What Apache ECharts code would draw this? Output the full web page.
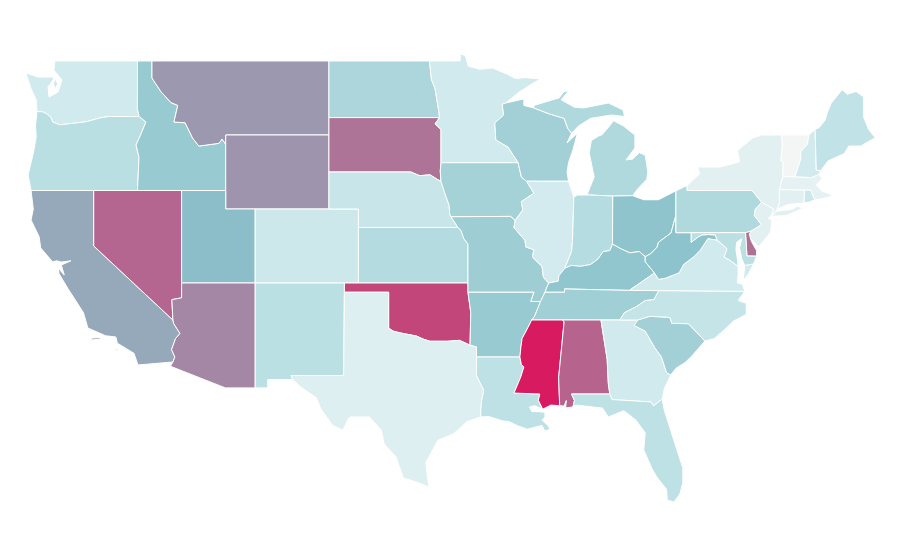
<!DOCTYPE html>
<html><head><meta charset="utf-8">
<style>html,body{margin:0;padding:0;background:#fff}#c{width:900px;height:560px}</style>
<script src="https://cdn.jsdelivr.net/npm/echarts@6/dist/echarts.min.js"></script>
</head><body><div id="c"></div>
<script>
const stateNames=['WA','OR','CA','NV','ID','MT','WY','UT','AZ','CO','NM','ND','SD','NE','KS','OK','TX','MN','IA','MO','AR','LA','WI','IL','MI','IN','OH','KY','TN','MS','AL','GA','FL','SC','NC','VA','WV','PA','NY','VT','NH','ME','MA','RI','CT','NJ','DE','MD'];
const stateValues=[15,26,57,77,43,62,63,51,67,17,25,33,73,19,29,87,9,15,37,40,43,24,38,14,31,28,48,47,39,100,78,15,24,38,21,15,49,31,7,0,15,22,6,18,7,7,74,25];
const colorStops=['#f4f6f6','#d6ecef','#bbe0e4','#a3d1d6','#8bc2cb','#9d96ae','#b16d94','#c4447a','#d81b60'];
const mapBounds=[[-125,50],[-66,24]];
const shapes={
WA:[[[-122.63,49],[-117.03,49],[-117.04,46.42],[-116.92,46],[-119,46],[-119.6,45.92],[-120.5,45.72],[-121.2,45.65],[-122.3,45.55],[-122.78,45.7],[-122.9,45.95],[-123.2,46.15],[-123.45,46.25],[-123.85,46.27],[-123.9,46.9],[-124.25,47.5],[-124.6,48.35],[-123.78,48.13],[-122.7,48.13],[-122.76,47.97],[-123.1,47.6],[-123.03,47.05],[-122.42,47.32],[-122.15,47.97],[-122.7,48.5]],[[-122.6,48.05],[-122.45,47.75],[-122.6,47.5],[-122.75,47.75]]],
OR:[[[-123.85,46.27],[-123.45,46.25],[-123.2,46.15],[-122.9,45.95],[-122.78,45.7],[-122.3,45.55],[-121.2,45.65],[-120.5,45.72],[-119.6,45.92],[-119,46],[-116.92,46],[-116.46,45.7],[-116.85,44.95],[-117.13,44.46],[-116.93,43.8],[-117.03,42],[-124.25,42],[-124.45,42.85],[-124.1,44],[-123.9,44.9],[-123.95,45.5]]],
CA:[[[-120,42],[-120,39],[-114.63,35],[-114.57,34.8],[-114.15,34.27],[-114.45,34],[-114.72,33.4],[-114.5,33],[-114.63,32.73],[-117,32.57],[-117.27,33.2],[-118.4,33.75],[-118.5,34.08],[-119.2,34.15],[-120.4,34.57],[-120.7,35.4],[-121.75,36.7],[-122.35,37.5],[-122.4,37.8],[-122,37.43],[-122.2,37.97],[-121.55,38.2],[-122.2,38.13],[-122.5,38.2],[-122.8,38.15],[-123.6,38.9],[-123.7,39.5],[-124.25,40.4],[-124.1,41],[-124.25,42]],[[-120.2,34.02],[-119.6,34.05],[-119.55,33.97],[-120.1,33.92]],[[-118.55,33.45],[-118.35,33.4],[-118.4,33.33]]],
NV:[[[-120,42],[-114.04,42],[-114.04,36.2],[-114.7,36.1],[-114.63,35],[-120,39]]],
ID:[[[-117.03,49],[-116.05,49],[-116.05,48.08],[-115.44,47.34],[-114.76,46.75],[-114.3,46.6],[-114.56,45.7],[-113.8,45.66],[-113.3,44.84],[-112.87,44.4],[-111.5,44.55],[-111.3,44.78],[-111.05,44.5],[-111.05,42],[-117.03,42],[-116.93,43.8],[-117.13,44.46],[-116.85,44.95],[-116.46,45.7],[-116.92,46],[-117.04,46.42]]],
MT:[[[-116.05,49],[-104.05,49],[-104.05,45],[-111.05,45],[-111.05,44.5],[-111.3,44.78],[-111.5,44.55],[-112.87,44.4],[-113.3,44.84],[-113.8,45.66],[-114.56,45.7],[-114.3,46.6],[-114.76,46.75],[-115.44,47.34],[-116.05,48.08]]],
WY:[[[-111.05,45],[-104.05,45],[-104.05,41],[-111.05,41]]],
UT:[[[-114.04,42],[-111.05,42],[-111.05,41],[-109.05,41],[-109.05,37],[-114.04,37]]],
AZ:[[[-114.04,37],[-109.05,37],[-109.05,31.33],[-111.07,31.33],[-114.8,32.5],[-114.63,32.73],[-114.5,33],[-114.72,33.4],[-114.45,34],[-114.15,34.27],[-114.57,34.8],[-114.63,35],[-114.7,36.1],[-114.04,36.2]]],
CO:[[[-109.05,41],[-102.05,41],[-102.05,37],[-109.05,37]]],
NM:[[[-109.05,37],[-103,37],[-103.05,32],[-106.62,32],[-106.5,31.78],[-108.2,31.78],[-108.2,31.33],[-109.05,31.33]]],
ND:[[[-104.05,49],[-97.23,49],[-97.1,48],[-96.85,47.5],[-96.6,46.3],[-96.55,45.94],[-104.05,45.94]]],
SD:[[[-104.05,45.94],[-96.55,45.94],[-96.85,45.6],[-96.45,45.3],[-96.45,43.5],[-96.5,43.05],[-96.45,42.49],[-96.7,42.6],[-97.2,42.85],[-97.9,42.8],[-98.5,43],[-104.05,43]]],
NE:[[[-104.05,43],[-98.5,43],[-97.9,42.8],[-97.2,42.85],[-96.7,42.6],[-96.45,42.49],[-96.25,42],[-96.1,41.65],[-95.9,41.2],[-95.85,40.7],[-95.77,40.58],[-95.3,40],[-102.05,40],[-102.05,41],[-104.05,41]]],
KS:[[[-102.05,40],[-95.3,40],[-95.1,39.85],[-94.9,39.4],[-94.62,39.1],[-94.62,37],[-102.05,37]]],
OK:[[[-103,37],[-94.62,37],[-94.62,36.5],[-94.43,35.4],[-94.48,33.64],[-95.2,33.9],[-96,33.85],[-96.6,33.85],[-97.2,33.85],[-97.7,33.98],[-98.1,34.13],[-99.2,34.3],[-99.7,34.4],[-100,34.56],[-100,36.5],[-103,36.5]]],
TX:[[[-103,36.5],[-100,36.5],[-100,34.56],[-99.7,34.4],[-99.2,34.3],[-98.1,34.13],[-97.7,33.98],[-97.2,33.85],[-96.6,33.85],[-96,33.85],[-95.2,33.9],[-94.48,33.64],[-94.04,33.55],[-94.04,33],[-94.04,32],[-93.55,31.2],[-93.7,30.6],[-93.75,30.1],[-93.75,29.76],[-94.7,29.5],[-95.1,29.2],[-95.6,28.85],[-96.66,28.5],[-97.1,27.85],[-97.47,27.3],[-97.4,26.7],[-97.27,25.97],[-97.95,26.2],[-99,26.46],[-99.5,27.6],[-100.3,28.3],[-100.5,29.05],[-101.3,29.76],[-102.56,29.76],[-102.7,29.7],[-103.1,29.05],[-103.8,29.3],[-104.6,30.2],[-104.9,30.8],[-106,31.4],[-106.5,31.78],[-106.62,32],[-103.05,32]]],
MN:[[[-97.23,49],[-95.15,49],[-95.15,49.38],[-94.8,49.3],[-94.6,48.72],[-93.8,48.55],[-92.95,48.62],[-92,48.3],[-91.4,48.05],[-90.75,48.1],[-89.7,48.03],[-90.3,47.75],[-91.2,47.3],[-92.05,46.73],[-92.3,46.66],[-92.2,46.08],[-92.8,45.65],[-92.73,44.73],[-91.9,44.35],[-91.22,43.5],[-96.45,43.5],[-96.45,45.3],[-96.85,45.6],[-96.55,45.94],[-96.6,46.3],[-96.85,47.5],[-97.1,48]]],
IA:[[[-96.45,43.5],[-91.22,43.5],[-91,42.73],[-90.65,42.5],[-90.15,41.85],[-91,41.4],[-90.9,40.95],[-91.42,40.38],[-91.73,40.6],[-95.77,40.58],[-95.85,40.7],[-95.9,41.2],[-96.1,41.65],[-96.25,42],[-96.45,42.49],[-96.5,43.05]]],
MO:[[[-95.77,40.58],[-91.73,40.6],[-91.42,40.38],[-91.5,40],[-90.75,39.3],[-90.7,38.95],[-90.15,38.8],[-90.25,38.4],[-89.6,37.9],[-89.5,37.3],[-89.15,37],[-89.4,36.5],[-89.7,36],[-90.37,36],[-90.15,36.5],[-94.62,36.5],[-94.62,39.1],[-94.9,39.4],[-95.1,39.85],[-95.3,40]]],
AR:[[[-94.62,36.5],[-90.15,36.5],[-90.37,36],[-89.7,36],[-90.1,35.2],[-90.3,35],[-90.55,34.6],[-90.95,34],[-91.03,33.54],[-91.1,33],[-94.04,33],[-94.04,33.55],[-94.48,33.64],[-94.43,35.4]]],
LA:[[[-94.04,33],[-91.1,33],[-91,32.6],[-90.83,32.46],[-91.05,31.9],[-91.5,31.05],[-89.75,31],[-89.85,30.66],[-89.55,30.18],[-90.1,30.37],[-90.45,30.3],[-90.3,30.05],[-89.8,30.05],[-89.4,30],[-89.4,29.75],[-89.6,29.6],[-89.2,29.3],[-89.05,29.1],[-89.4,29],[-89.6,29.3],[-90.1,29.2],[-90.6,29.1],[-91.3,29.3],[-91.8,29.5],[-92.3,29.55],[-93.2,29.78],[-93.75,29.76],[-93.75,30.1],[-93.7,30.6],[-93.55,31.2],[-94.04,32]]],
WI:[[[-92.05,46.73],[-90.83,46.95],[-90.83,46.6],[-90.15,46.46],[-89.1,46.14],[-88.1,45.9],[-87.85,45.35],[-87.6,45.1],[-87.9,44.57],[-87.2,45.1],[-87.5,44.2],[-87.8,43.5],[-87.9,43],[-87.8,42.5],[-90.65,42.5],[-91,42.73],[-91.22,43.5],[-91.9,44.35],[-92.73,44.73],[-92.8,45.65],[-92.2,46.08],[-92.3,46.66]]],
IL:[[[-90.65,42.5],[-87.8,42.5],[-87.44,41.65],[-87.53,39.3],[-87.6,38.7],[-87.95,38],[-88.05,37.8],[-88.45,37.4],[-88.5,37.1],[-89.15,37],[-89.5,37.3],[-89.6,37.9],[-90.25,38.4],[-90.15,38.8],[-90.7,38.95],[-90.75,39.3],[-91.5,40],[-91.42,40.38],[-90.9,40.95],[-91,41.4],[-90.15,41.85]]],
MI:[[[-90.15,46.46],[-90.15,46.6],[-88.45,47],[-88.1,47.35],[-87.8,47.38],[-88.3,46.9],[-87.4,46.5],[-86.76,46.46],[-85.1,46.73],[-84.1,46.35],[-84,46],[-84.9,46.08],[-86.3,45.9],[-87.1,45.5],[-87.6,45.1],[-87.85,45.35],[-88.1,45.9],[-89.1,46.14]],[[-86.5,41.76],[-84.8,41.7],[-83.45,41.72],[-83.15,42.05],[-82.5,42.6],[-82.42,43],[-82.6,43.9],[-83,44.05],[-83.45,43.7],[-83.9,43.65],[-83.3,44.3],[-83.3,45],[-84.1,45.5],[-84.75,45.77],[-85.1,45.4],[-85.55,45],[-85.75,44.95],[-86.25,44.7],[-86.4,44.03],[-86.06,42.73],[-86.5,41.86]]],
IN:[[[-87.44,41.65],[-87.2,41.75],[-86.5,41.76],[-84.8,41.7],[-84.82,39.1],[-85,38.75],[-85.45,38.7],[-85.8,38.3],[-86.3,38],[-87,37.9],[-87.6,37.95],[-88.05,37.8],[-87.95,38],[-87.6,38.7],[-87.53,39.3]]],
OH:[[[-84.8,41.7],[-83.45,41.72],[-82.7,41.5],[-81.7,41.5],[-80.52,41.98],[-80.52,40.64],[-80.65,40.3],[-80.85,39.7],[-81.7,39.2],[-81.8,38.93],[-82.2,38.6],[-82.6,38.42],[-83,38.7],[-83.65,38.63],[-84.25,38.85],[-84.82,39.1]]],
KY:[[[-84.82,39.1],[-84.25,38.85],[-83.65,38.63],[-83,38.7],[-82.6,38.42],[-82.6,38.15],[-81.97,37.54],[-83.68,36.6],[-86.5,36.65],[-88.07,36.68],[-88.07,36.5],[-89.4,36.5],[-89.15,37],[-88.5,37.1],[-88.45,37.4],[-88.05,37.8],[-87.6,37.95],[-87,37.9],[-86.3,38],[-85.8,38.3],[-85.45,38.7],[-85,38.75]]],
TN:[[[-89.4,36.5],[-88.07,36.5],[-88.07,36.68],[-86.5,36.65],[-83.68,36.6],[-81.68,36.59],[-82,36.1],[-82.6,36.05],[-83.2,35.72],[-84,35.4],[-84.32,35],[-88.2,35],[-90.3,35],[-90.1,35.2],[-89.7,36]]],
MS:[[[-91.1,33],[-91.03,33.54],[-90.95,34],[-90.55,34.6],[-90.3,35],[-88.2,35],[-88.1,34.9],[-88.47,31.9],[-88.4,30.37],[-89,30.4],[-89.55,30.18],[-89.85,30.66],[-89.75,31],[-91.5,31.05],[-91.05,31.9],[-90.83,32.46],[-91,32.6]]],
AL:[[[-88.2,35],[-85.6,35],[-85.18,32.87],[-85.15,32.3],[-85.1,31.55],[-85,31],[-87.6,31],[-87.4,30.65],[-87.5,30.3],[-88,30.25],[-87.95,30.65],[-88.1,30.35],[-88.4,30.37],[-88.47,31.9],[-88.1,34.9]]],
GA:[[[-85.6,35],[-84.32,35],[-83.1,35],[-83.35,34.7],[-82.6,34.4],[-81.95,33.5],[-81.5,33],[-81.15,32.15],[-80.87,32.03],[-81.3,31.3],[-81.45,30.72],[-82.05,30.36],[-82.2,30.57],[-84.86,30.7],[-85,31],[-85.1,31.55],[-85.15,32.3],[-85.18,32.87]]],
FL:[[[-87.6,31],[-85,31],[-84.86,30.7],[-82.2,30.57],[-82.05,30.36],[-81.45,30.72],[-81.3,30.1],[-80.66,28.5],[-80.05,27],[-80.05,26.2],[-80.25,25.6],[-80.65,25.16],[-81.1,25.27],[-81.15,25.85],[-81.8,26.5],[-82.1,26.9],[-82.7,27.97],[-82.6,28.9],[-83.24,29.6],[-84.05,30.1],[-85.1,29.76],[-85.5,30.24],[-87.3,30.4],[-87.5,30.3],[-87.4,30.65]]],
SC:[[[-83.1,35],[-82.3,35.2],[-81.05,35.15],[-80.9,35.1],[-80.8,34.82],[-79.67,34.8],[-78.55,33.86],[-79.5,33],[-79.9,32.7],[-80.5,32.4],[-80.87,32.03],[-81.15,32.15],[-81.5,33],[-81.95,33.5],[-82.6,34.4],[-83.35,34.7]]],
NC:[[[-81.68,36.59],[-75.85,36.55],[-76.3,36.05],[-75.75,35.9],[-75.75,35.3],[-76.6,34.95],[-77,34.65],[-77.9,34],[-78.55,33.86],[-79.67,34.8],[-80.8,34.82],[-80.9,35.1],[-81.05,35.15],[-82.3,35.2],[-83.1,35],[-84.32,35],[-84,35.4],[-83.2,35.72],[-82.6,36.05],[-82,36.1]]],
VA:[[[-83.68,36.6],[-81.97,37.54],[-81.7,37.2],[-81.25,37.25],[-80.3,37.55],[-80,38],[-79.3,38.42],[-78.87,38.77],[-78.35,39.4],[-77.72,39.32],[-77.05,38.85],[-77.25,38.4],[-76.9,38.25],[-76.3,37.9],[-76.3,37.5],[-76.35,37],[-76,36.93],[-75.85,36.55],[-81.68,36.59]],[[-75.95,37.15],[-75.85,37.95],[-75.25,38.03],[-75.6,37.5]]],
WV:[[[-80.52,40.64],[-80.52,39.72],[-79.48,39.72],[-79.48,39.2],[-79.05,39.47],[-78.75,39.6],[-78.3,39.62],[-77.85,39.6],[-77.72,39.32],[-78.35,39.4],[-78.87,38.77],[-79.3,38.42],[-80,38],[-80.3,37.55],[-81.25,37.25],[-81.7,37.2],[-81.97,37.54],[-82.6,38.15],[-82.6,38.42],[-82.2,38.6],[-81.8,38.93],[-81.7,39.2],[-80.85,39.7],[-80.65,40.3]]],
PA:[[[-80.52,41.98],[-79.76,42.27],[-79.76,42],[-75.35,42],[-75.05,41.7],[-74.7,41.36],[-75.13,40.98],[-75.2,40.65],[-74.72,40.15],[-75.42,39.8],[-75.8,39.72],[-80.52,39.72]]],
NY:[[[-79.76,42.27],[-78.9,42.9],[-79.05,43.27],[-77.5,43.27],[-76.2,43.55],[-76.35,44.15],[-75.3,44.85],[-74.7,45],[-73.35,45],[-73.3,44.4],[-73.4,43.6],[-73.25,43.55],[-73.27,42.75],[-73.5,42.05],[-73.5,41.3],[-73.65,41],[-73.8,40.8],[-74,40.7],[-73.9,41],[-74.7,41.36],[-75.05,41.7],[-75.35,42],[-79.76,42]],[[-74,40.6],[-73.75,40.87],[-72.6,40.98],[-72.3,41.15],[-71.9,41.05],[-73,40.65]]],
VT:[[[-73.35,45],[-71.5,45],[-71.6,44.5],[-72.05,44.1],[-72.05,43.7],[-72.45,42.73],[-73.27,42.75],[-73.25,43.55],[-73.4,43.6],[-73.3,44.4]]],
NH:[[[-71.5,45],[-71.08,45.3],[-71,43.1],[-70.7,43.07],[-70.82,42.87],[-71.3,42.7],[-72.45,42.73],[-72.05,43.7],[-72.05,44.1],[-71.6,44.5]]],
ME:[[[-71.08,45.3],[-70.8,45.4],[-70.4,45.8],[-70.25,46.2],[-70,46.7],[-69.25,47.45],[-68.9,47.2],[-68.3,47.35],[-67.8,47.07],[-67.78,45.95],[-67.45,45.3],[-67,44.85],[-68,44.4],[-68.8,44.4],[-69.1,44],[-70.2,43.6],[-70.7,43.07],[-71,43.1]]],
MA:[[[-73.5,42.05],[-73.27,42.75],[-72.45,42.73],[-71.3,42.7],[-70.82,42.87],[-70.6,42.65],[-71,42.3],[-70.6,41.95],[-70,41.8],[-70.25,42.07],[-69.95,41.7],[-70.6,41.55],[-71.1,41.5],[-71.2,41.65],[-71.38,42.02],[-71.8,42.02],[-72.8,42.03]]],
RI:[[[-71.8,42.02],[-71.38,42.02],[-71.2,41.65],[-71.1,41.5],[-71.5,41.37],[-71.85,41.32]]],
CT:[[[-73.5,42.05],[-72.8,42.03],[-71.8,42.02],[-71.85,41.32],[-72.9,41.25],[-73.65,41],[-73.5,41.3]]],
NJ:[[[-74.7,41.36],[-73.9,41],[-74.05,40.65],[-74.25,40.5],[-74,40.4],[-74.1,39.75],[-74.9,38.95],[-75.5,39.45],[-75.55,39.65],[-75.42,39.8],[-74.72,40.15],[-75.2,40.65],[-75.13,40.98]]],
DE:[[[-75.8,39.72],[-75.42,39.8],[-75.55,39.65],[-75.4,39.25],[-75.05,38.75],[-75.05,38.45],[-75.7,38.46]]],
MD:[[[-79.48,39.72],[-75.8,39.72],[-75.7,38.46],[-75.05,38.45],[-75.25,38.03],[-75.85,37.95],[-76.05,38.3],[-76.2,38.9],[-76.05,39.4],[-76.4,39.2],[-76.45,38.8],[-76.35,38.3],[-76.3,37.9],[-76.9,38.25],[-77.25,38.4],[-77.05,38.85],[-77.72,39.32],[-77.85,39.6],[-78.3,39.62],[-78.75,39.6],[-79.05,39.47],[-79.48,39.2]]]
};
const geo={type:'FeatureCollection',features:stateNames.map(n=>({type:'Feature',properties:{name:n},geometry:{type:'MultiPolygon',coordinates:shapes[n].map(r=>[r.concat([r[0]])])}}))};
echarts.registerMap('USA',geo);
const chart=echarts.init(document.getElementById('c'),null,{renderer:'canvas'});
chart.setOption({
  animation:false,
  backgroundColor:'#fff',
  visualMap:{show:false,type:'continuous',min:0,max:100,inRange:{color:colorStops}},
  series:[{type:'map',map:'USA',silent:true,
    boundingCoords:mapBounds,aspectScale:0.797,layoutCenter:[455,283],layoutSize:870,
    label:{show:false},emphasis:{disabled:true},select:{disabled:true},
    itemStyle:{borderColor:'#fff',borderWidth:1},
    data:stateNames.map((n,i)=>({name:n,value:stateValues[i]}))}]
});
</script></body></html>
